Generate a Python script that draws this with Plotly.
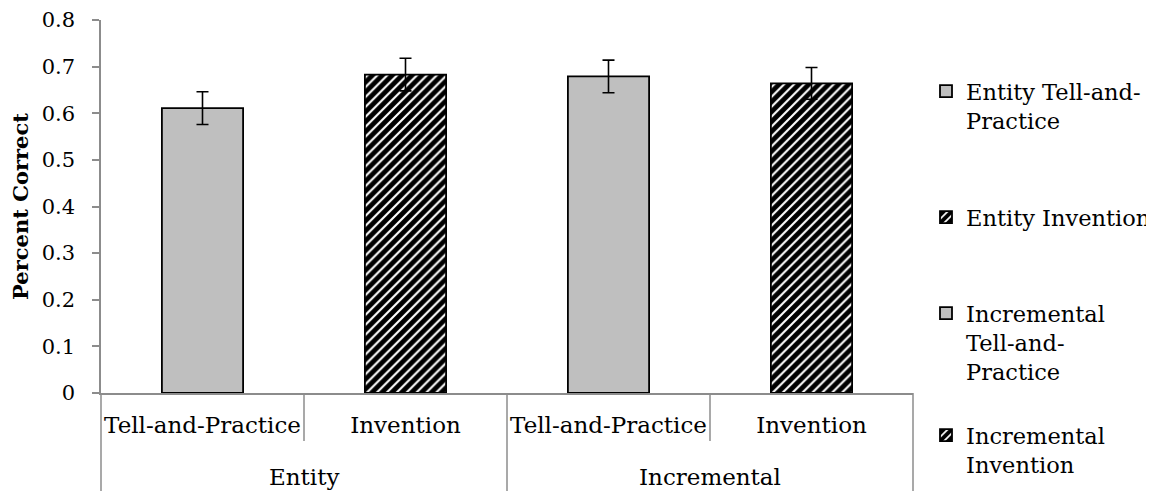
import plotly.graph_objects as go

groups = ["Entity", "Incremental"]
conditions = ["Tell-and-Practice", "Invention", "Tell-and-Practice", "Invention"]
bar_group = [0, 0, 1, 1]
series_names = ["Entity Tell-and-<br>Practice", "Entity Invention",
                "Incremental<br>Tell-and-<br>Practice", "Incremental<br>Invention"]
values = [0.611, 0.683, 0.679, 0.664]
errors = [0.035, 0.035, 0.035, 0.034]
hatched = [False, True, False, True]
y_ticks = [0, 0.1, 0.2, 0.3, 0.4, 0.5, 0.6, 0.7, 0.8]
y_ticktext = ["0", "0.1", "0.2", "0.3", "0.4", "0.5", "0.6", "0.7", "0.8"]

FONT = "DejaVu Serif"
FS = 23
GRAY = "#8c8c8c"

# page body adds an 8px offset; layout numbers below are in figure pixels
W, H = 1154, 491
ML, MT, MR, MB = 93, 12, 249, 106
PLOT_H = H - MT - MB

positions = list(range(len(conditions)))
legend_ids = ["legend", "legend2", "legend3", "legend4"]
legend_top_px = [62, 188, 284, 406]

fig = go.Figure()
for i in positions:
    if hatched[i]:
        marker = dict(color="white", line=dict(color="black", width=1.8),
                      pattern=dict(shape="/", fgcolor="black", bgcolor="white",
                                   fgopacity=1, size=7, solidity=0.7))
    else:
        marker = dict(color="#bfbfbf", line=dict(color="black", width=1.8))
    fig.add_trace(go.Bar(
        x=[positions[i]],
        y=[values[i]],
        name=series_names[i],
        legend=legend_ids[i],
        marker=marker,
        opacity=1,
        width=0.4,
        error_y=dict(type="data", array=[errors[i]], color="black",
                     thickness=1.6, width=6),
    ))

legend_common = dict(xref="container", yref="container", x=918 / W,
                     xanchor="left", yanchor="top", valign="top",
                     font=dict(family=FONT, size=22.5, color="black"),
                     bgcolor="rgba(0,0,0,0)")
layout_legends = {}
for lid, top in zip(legend_ids, legend_top_px):
    layout_legends[lid] = dict(legend_common, y=1 - top / H)

fig.update_layout(
    width=W, height=H,
    margin=dict(l=ML, r=MR, t=MT, b=MB),
    paper_bgcolor="white", plot_bgcolor="white",
    barmode="overlay",
    font=dict(family=FONT, size=FS, color="black"),
    showlegend=True,
    **layout_legends,
)

# boundaries between conditions (short) and between groups (long)
n = len(conditions)
for b in range(n + 1):
    is_group_edge = b == 0 or b == n or bar_group[b - 1] != bar_group[b]
    depth = (MB if is_group_edge else 48) / PLOT_H
    fig.add_shape(type="line", xref="x domain", yref="paper",
                  x0=b / n, x1=b / n, y0=0, y1=-depth,
                  line=dict(color=GRAY, width=1.5), layer="above")

for g, name in enumerate(groups):
    members = [p for p in positions if bar_group[p] == g]
    fig.add_annotation(x=sum(members) / len(members), y=0, xref="x", yref="y",
                       text=name, showarrow=False, yanchor="middle",
                       yshift=-84, font=dict(family=FONT, size=FS))

fig.update_yaxes(range=[0, 0.8], tickvals=y_ticks, ticktext=y_ticktext,
                 showgrid=False, zeroline=False, showline=True,
                 linecolor=GRAY, linewidth=1.5, ticks="outside", ticklen=7,
                 tickcolor=GRAY, tickwidth=1.5, ticklabelstandoff=13,
                 automargin=False,
                 tickfont=dict(family=FONT, size=21),
                 title=dict(text="<b>Percent Correct</b>", standoff=8,
                            font=dict(family=FONT, size=21)))
fig.update_xaxes(range=[-0.5, n - 0.5], tickvals=positions, ticktext=conditions,
                 showgrid=False, zeroline=False, showline=True,
                 linecolor=GRAY, linewidth=1.5, ticks="", automargin=False,
                 ticklabelstandoff=11,
                 tickfont=dict(family=FONT, size=FS))

fig.write_html("out.html")
